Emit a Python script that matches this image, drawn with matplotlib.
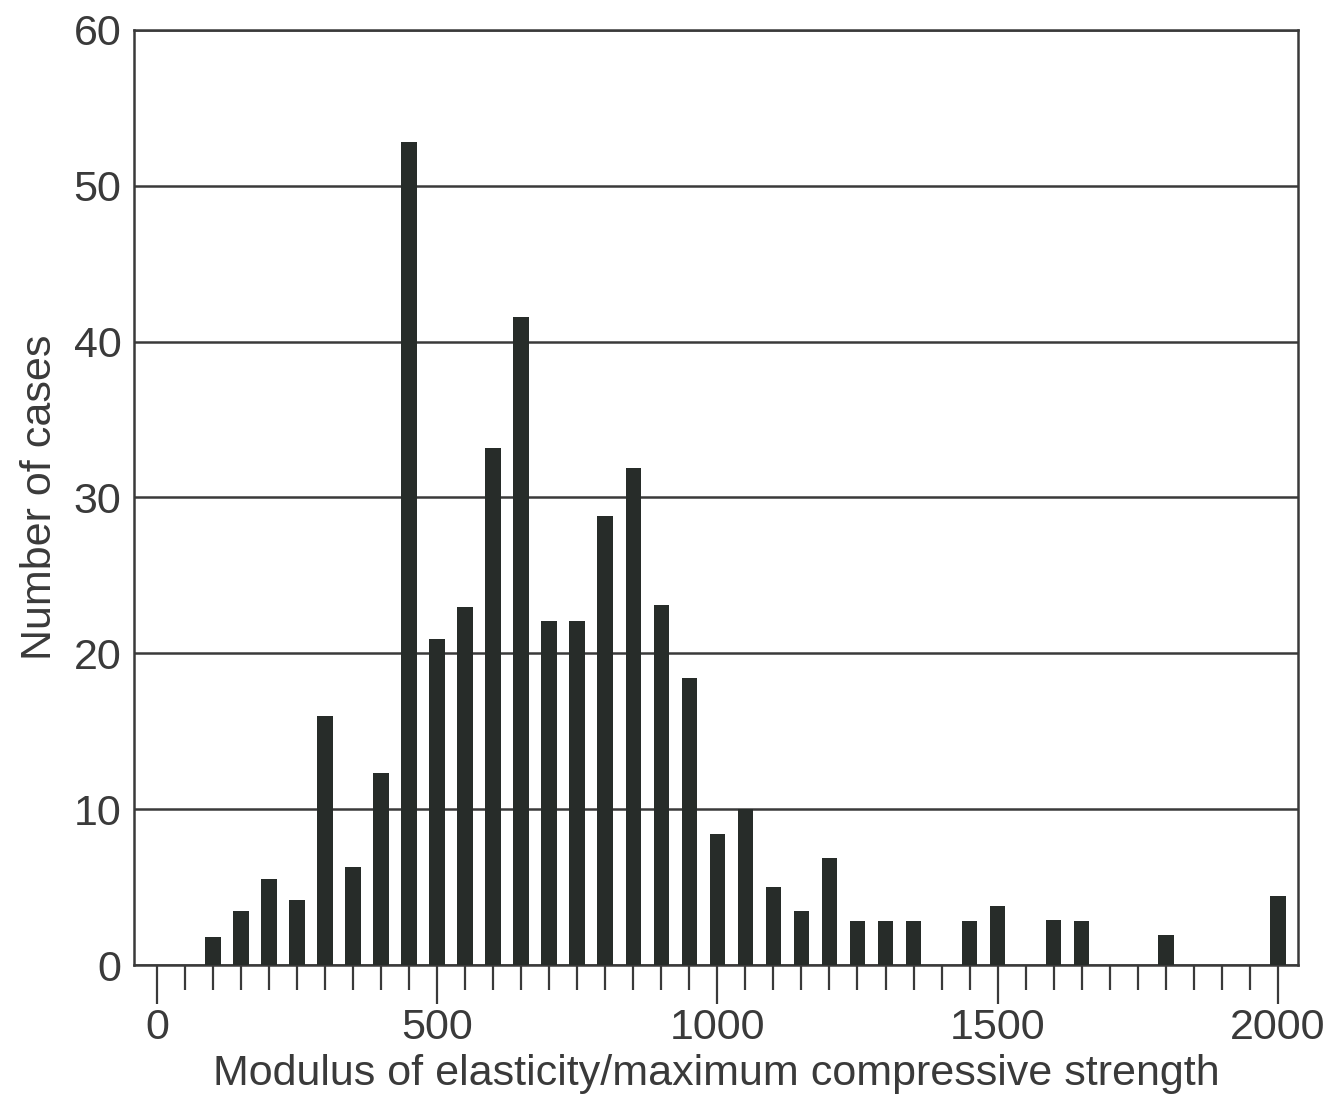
import numpy as np
import matplotlib
matplotlib.use("Agg")
import matplotlib.pyplot as plt
from matplotlib.ticker import MultipleLocator

# Ratio classes (bin centres) and number of cases in each
ratio_bins = [100, 150, 200, 250, 300, 350, 400, 450, 500, 550,
              600, 650, 700, 750, 800, 850, 900, 950, 1000, 1050,
              1100, 1150, 1200, 1250, 1300, 1350, 1450, 1500, 1600, 1650,
              1800, 2000]
case_counts = [1.8, 3.5, 5.5, 4.2, 16.0, 6.3, 12.3, 52.8, 20.9, 23.0,
               33.2, 41.6, 22.1, 22.1, 28.8, 31.9, 23.1, 18.4, 8.4, 10.0,
               5.0, 3.5, 6.9, 2.8, 2.8, 2.8, 2.8, 3.8, 2.9, 2.8,
               1.9, 4.4]

x_major_ticks = [0, 500, 1000, 1500, 2000]
y_ticks = [0, 10, 20, 30, 40, 50, 60]

ink = "#3a3a3a"
bar_color = "#272c29"

plt.rcParams["font.family"] = ["Liberation Sans", "DejaVu Sans"]

fig = plt.figure(figsize=(13.30, 11.09), dpi=100)
ax = fig.add_axes([0.1008, 0.1298, 0.8751, 0.8432])

ax.bar(ratio_bins, case_counts, width=28, color=bar_color, zorder=3)

ax.set_xlim(-41, 2036)
ax.set_ylim(0, 60)

# x axis: long ticks every 500, short ticks every 50, all pointing down
ax.set_xticks(x_major_ticks)
ax.xaxis.set_minor_locator(MultipleLocator(50))
ax.tick_params(axis="x", which="major", direction="out", length=28,
               width=1.6, color=ink, labelsize=31, labelcolor=ink, pad=3)
ax.tick_params(axis="x", which="minor", direction="out", length=18,
               width=1.6, color=ink)

# y axis: labels only, horizontal rules across the plot
ax.set_yticks(y_ticks)
ax.tick_params(axis="y", which="major", length=0, labelsize=31,
               labelcolor=ink, pad=9)
ax.yaxis.grid(True, color=ink, linewidth=1.8, zorder=1)
ax.set_axisbelow(True)

for side in ax.spines.values():
    side.set_color(ink)
    side.set_linewidth(1.8)

ax.set_xlabel("Modulus of elasticity/maximum compressive strength",
              fontsize=31, color=ink, labelpad=4)
ax.set_ylabel("Number of cases", fontsize=31, color=ink, labelpad=10)

fig.savefig("out.png", dpi=100, facecolor="white")
